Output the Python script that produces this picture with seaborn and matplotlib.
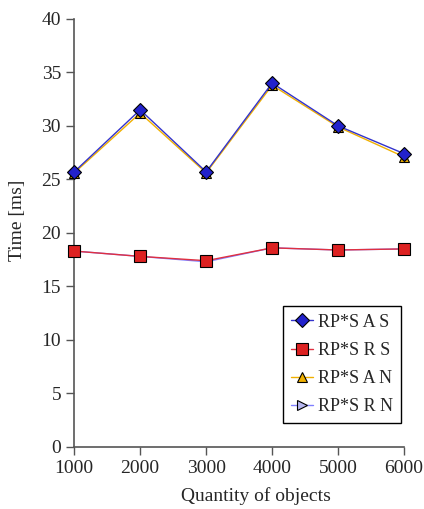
import pandas as pd
import matplotlib
matplotlib.use("Agg")
import matplotlib.pyplot as plt
import seaborn as sns

quantity = [1000, 2000, 3000, 4000, 5000, 6000]
sas = [25.7, 31.5, 25.7, 34.0, 30.0, 27.4]
srs = [18.3, 17.8, 17.4, 18.6, 18.4, 18.5]
san = [25.6, 31.2, 25.6, 33.8, 29.9, 27.1]
srn = [18.3, 17.8, 17.3, 18.6, 18.4, 18.5]
yticks = [0, 5, 10, 15, 20, 25, 30, 35, 40]

sns.set_style("white")
plt.rcParams['font.family'] = ['Liberation Serif', 'DejaVu Serif']

fig = plt.figure(figsize=(4.24, 5.09), dpi=100)
ax = fig.add_axes([0.175, 0.122, 0.778, 0.841])

# (label, values, line colour, marker, face colour, zorder)
series = [
    ("RP*S R N", srn, "#8080ff", ">", "#b8b8f0", 2),
    ("RP*S A N", san, "#f0b000", "^", "#f0b000", 3),
    ("RP*S R S", srs, "#e03040", "s", "#dd2222", 4),
    ("RP*S A S", sas, "#3333cc", "D", "#2222cc", 5),
]
for label, vals, col, mk, fc, z in series:
    df = pd.DataFrame({"q": quantity, "t": vals})
    sns.lineplot(data=df, x="q", y="t", ax=ax, color=col, lw=1.0,
                 marker=mk, markersize=7 if mk != "s" else 8,
                 markerfacecolor=fc, markeredgecolor="black",
                 markeredgewidth=0.8, zorder=z, label=label, clip_on=False)

ax.set_xlim(1000, 6000)
ax.set_ylim(0, 40)
ax.set_xticks(quantity)
ax.set_yticks(yticks)
ax.set_xlabel("Quantity of objects", fontsize=14)
ax.set_ylabel("Time [ms]", fontsize=14)
ax.xaxis.set_label_coords(0.55, -0.093)
ax.yaxis.set_label_coords(-0.145, 0.53)
ax.tick_params(axis="both", labelsize=14, direction="out", length=6,
               width=1, color="#555555", left=True, bottom=True)
for s in ["top", "right"]:
    ax.spines[s].set_visible(False)
for s in ["left", "bottom"]:
    ax.spines[s].set_color("#555555")
    ax.spines[s].set_linewidth(1.2)

h, l = ax.get_legend_handles_labels()
order = ["RP*S A S", "RP*S R S", "RP*S A N", "RP*S R N"]
hd = dict(zip(l, h))
leg = ax.legend([hd[k] for k in order], order, loc="lower right",
                bbox_to_anchor=(0.99, 0.055), borderaxespad=0, fontsize=13,
                frameon=True, fancybox=False, edgecolor="black", framealpha=1,
                handlelength=1.2, handletextpad=0.25, borderpad=0.45,
                labelspacing=0.62)
leg.get_frame().set_linewidth(1.0)

fig.savefig("out.png", dpi=100)
